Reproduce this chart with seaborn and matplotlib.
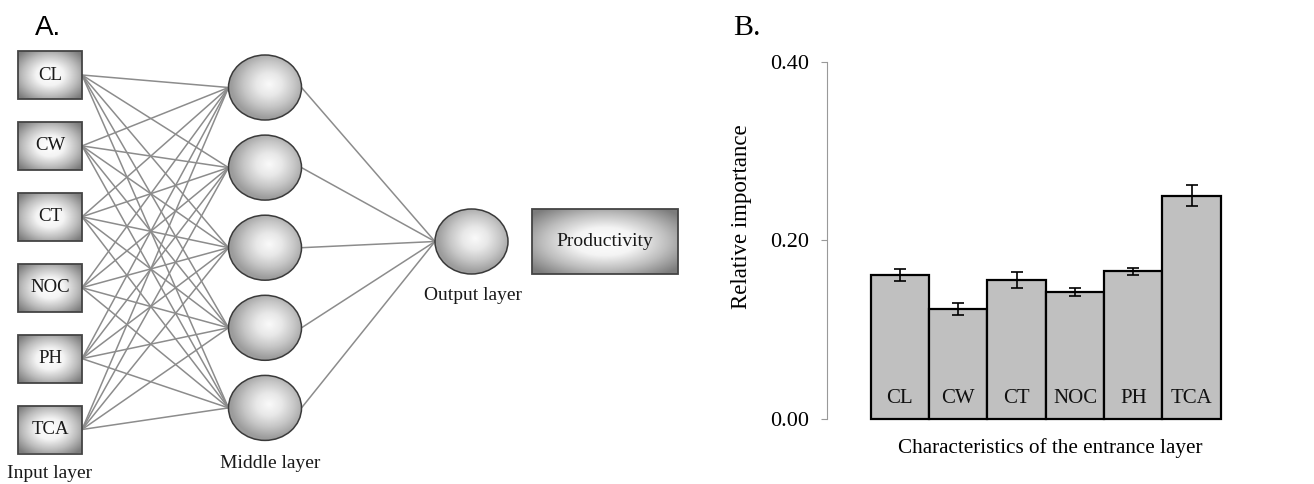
import numpy as np
import matplotlib
matplotlib.use("Agg")
import matplotlib.pyplot as plt
from matplotlib.patches import Rectangle, Ellipse
from matplotlib.colors import LinearSegmentedColormap
import seaborn as sns
import pandas as pd

# ---------------- data ----------------
categories = ["CL", "CW", "CT", "NOC", "PH", "TCA"]
importance = [0.161, 0.123, 0.155, 0.142, 0.165, 0.250]
errors = [0.007, 0.0065, 0.009, 0.005, 0.004, 0.0115]
y_ticks = [0.0, 0.2, 0.4]
y_tick_labels = ["0.00", "0.20", "0.40"]

input_nodes = categories
n_hidden = 5
output_label = "Productivity"
layer_names = ["Input layer", "Middle layer", "Output layer"]

sns.set_theme(style="white")
plt.rcParams["font.family"] = ["Liberation Serif", "DejaVu Serif"]

W, H = 1314, 484
fig = plt.figure(figsize=(W / 100, H / 100), dpi=100)

# ---------------- Panel A: network diagram ----------------
axA = fig.add_axes([0, 0, 700 / W, 1])
axA.set_xlim(0, 700)
axA.set_ylim(H, 0)
axA.axis("off")

box_cmap = LinearSegmentedColormap.from_list("box", ["#ffffff", "#f4f4f4", "#bdbdbd", "#7c7c7c"])
ell_cmap = LinearSegmentedColormap.from_list("ell", ["#fafafa", "#e8e8e8", "#c6c6c6", "#9c9c9c"])


def shaded(ax, patch, x0, x1, y0, y1, cmap, rmax, cx=0.5, cy=0.5):
    ax.add_patch(patch)
    n = 200
    xx, yy = np.meshgrid(np.linspace(0, 1, n), np.linspace(0, 1, n))
    r = np.sqrt(((xx - cx) / 0.5) ** 2 + ((yy - cy) / 0.5) ** 2)
    r = np.clip(r / rmax, 0, 1)
    im = ax.imshow(r, cmap=cmap, vmin=0, vmax=1, extent=(x0, x1, y1, y0),
                   origin="upper", aspect="auto", interpolation="bilinear", zorder=2)
    im.set_clip_path(patch)


# layout
in_x0, in_x1 = 18, 82
in_y0, in_dy, box_h = 75, 70.9, 48
hid_cx, hid_y0, hid_dy = 265, 87.5, 80.1
ell_w, ell_h = 73, 65
out_cx, out_cy = 471.5, 241.5
prod_x0, prod_x1, prod_y0, prod_y1 = 532, 678, 209, 274

in_ys = [in_y0 + i * in_dy for i in range(len(input_nodes))]
hid_ys = [hid_y0 + j * hid_dy for j in range(n_hidden)]
line_kw = dict(color="#8c8c8c", lw=1.1, zorder=1)

for yi in in_ys:
    for yh in hid_ys:
        axA.plot([in_x1, hid_cx - ell_w / 2], [yi, yh], **line_kw)
for yh in hid_ys:
    axA.plot([hid_cx + ell_w / 2, out_cx - ell_w / 2], [yh, out_cy], **line_kw)

for name, yi in zip(input_nodes, in_ys):
    rect = Rectangle((in_x0, yi - box_h / 2), in_x1 - in_x0, box_h,
                     facecolor="none", edgecolor="#444444", lw=1.3, zorder=3)
    shaded(axA, rect, in_x0, in_x1, yi - box_h / 2, yi + box_h / 2, box_cmap, 1.3)
    axA.text((in_x0 + in_x1) / 2, yi, name, ha="center", va="center",
             fontsize=13.5, color="#1a1a1a", zorder=4)

for yh in hid_ys:
    e = Ellipse((hid_cx, yh), ell_w, ell_h, facecolor="none",
                edgecolor="#3a3a3a", lw=1.1, zorder=3)
    shaded(axA, e, hid_cx - ell_w / 2, hid_cx + ell_w / 2, yh - ell_h / 2, yh + ell_h / 2,
           ell_cmap, 1.05, cx=0.55, cy=0.45)

e = Ellipse((out_cx, out_cy), ell_w, ell_h, facecolor="none",
            edgecolor="#3a3a3a", lw=1.1, zorder=3)
shaded(axA, e, out_cx - ell_w / 2, out_cx + ell_w / 2, out_cy - ell_h / 2, out_cy + ell_h / 2,
       ell_cmap, 1.05, cx=0.55, cy=0.45)

rect = Rectangle((prod_x0, prod_y0), prod_x1 - prod_x0, prod_y1 - prod_y0,
                 facecolor="none", edgecolor="#444444", lw=1.3, zorder=3)
shaded(axA, rect, prod_x0, prod_x1, prod_y0, prod_y1, box_cmap, 1.3)
axA.text((prod_x0 + prod_x1) / 2, (prod_y0 + prod_y1) / 2, output_label,
         ha="center", va="center", fontsize=14, color="#1a1a1a", zorder=4)

axA.text(50, 473, layer_names[0], ha="center", va="center", fontsize=14, color="#1a1a1a")
axA.text(hid_cx + 5, 463, layer_names[1], ha="center", va="center", fontsize=14, color="#1a1a1a")
axA.text(out_cx + 2, 295, layer_names[2], ha="center", va="center", fontsize=14, color="#1a1a1a")

fig.text(35 / W, 1 - 35 / H, "A.", ha="left", va="baseline", fontsize=20,
         family=["Liberation Sans", "DejaVu Sans"], color="black")
fig.text(733 / W, 1 - 35 / H, "B.", ha="left", va="baseline", fontsize=21.5, color="black")

# ---------------- Panel B: bar chart ----------------
ax_left, ax_right, ax_top, ax_bot = 826.7, 1222.0, 61.7, 418.7
axB = fig.add_axes([ax_left / W, 1 - ax_bot / H, (ax_right - ax_left) / W, (ax_bot - ax_top) / H])

df = pd.DataFrame({"cat": categories, "val": importance})
sns.barplot(data=df, x="cat", y="val", ax=axB, color="#c0c0c0", edgecolor="black",
            linewidth=1.6, width=1.0, saturation=1, errorbar=None)
for p in axB.patches:
    p.set_clip_on(False)
axB.errorbar(np.arange(len(categories)), importance, yerr=errors, fmt="none",
             ecolor="black", elinewidth=1.2, capsize=4.5, capthick=1.2, zorder=5)

for i, c in enumerate(categories):
    axB.text(i, 0.0179, c, ha="center", va="baseline", fontsize=15, color="#111111")

axB.set_xlim(-1.255, 5.52)
axB.set_ylim(0, 0.4)
axB.set_xticks([])
axB.set_yticks(y_ticks)
axB.set_yticklabels(y_tick_labels, fontsize=16)
axB.tick_params(axis="y", direction="out", length=4, width=0.8, color="#999999",
                pad=9, labelcolor="black", left=True)
for s in ["top", "right", "bottom"]:
    axB.spines[s].set_visible(False)
axB.spines["left"].set_color("#999999")
axB.spines["left"].set_linewidth(0.8)
axB.set_facecolor("none")

axB.set_ylabel("Relative importance", fontsize=16.5, color="black")
axB.yaxis.set_label_coords((741.7 - ax_left) / (ax_right - ax_left), (ax_bot - 216.7) / (ax_bot - ax_top))
axB.yaxis.label.set_va("center")
axB.yaxis.label.set_ha("center")
axB.set_xlabel("Characteristics of the entrance layer", fontsize=15.2, color="black")
axB.xaxis.set_label_coords((1050 - ax_left) / (ax_right - ax_left), (ax_bot - 448) / (ax_bot - ax_top))
axB.xaxis.label.set_va("center")

fig.savefig("out.png", dpi=100, facecolor="white")
